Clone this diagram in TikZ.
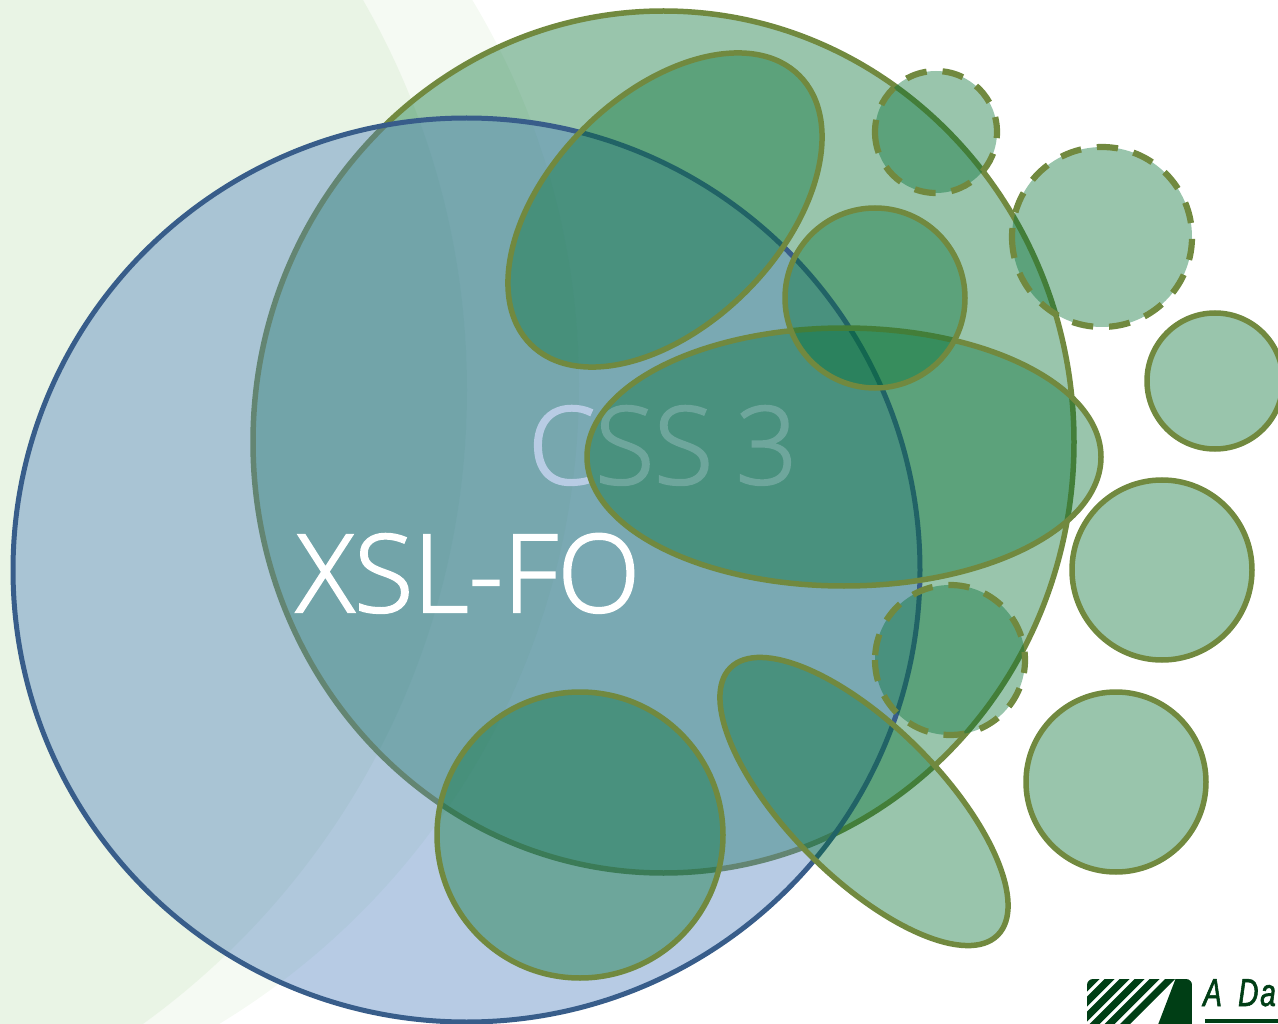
\documentclass[tikz,border=0pt]{standalone}
\usepackage{fontspec}
\newfontfamily\labelfont[FakeBold=2,WordSpace=0.82]{Open Sans Light}
\newfontfamily\logofont[FakeStretch=0.72,FakeBold=1.5,LetterSpace=4.5,WordSpace=1.7]{Liberation Sans}
\definecolor{bgouter}{HTML}{F5FAF3}
\definecolor{bginner}{HTML}{E9F4E5}
\definecolor{bluefill}{HTML}{4F81BD}
\definecolor{bluedge}{HTML}{385D8A}
\definecolor{greenfill}{HTML}{006E30}
\definecolor{greenedge}{HTML}{71893F}
\definecolor{logogreen}{HTML}{003E15}
\definecolor{csstext}{HTML}{B8CCE4}
\tikzset{
  bluebubble/.style={fill=bluefill,fill opacity=.41,draw=bluedge,draw opacity=1,line width=5pt},
  greenbubble/.style={fill=greenfill,fill opacity=.4,draw=greenedge,draw opacity=1,line width=5.5pt},
  dashbubble/.style={greenbubble,line width=6.2pt,dash pattern=on 21.2pt off 15.9pt},
  biglabel/.style={font=\labelfont\fontsize{108}{120}\selectfont,inner sep=0pt,anchor=base west},
}
\begin{document}
\begin{tikzpicture}[x=1pt,y=-1pt]
\useasboundingbox (0,0) rectangle (1278,1024);
\clip (0,0) rectangle (1278,1024);
% background discs
\fill[bgouter] (-168,385) circle[radius=747pt];
\fill[bginner] (-315,390) circle[radius=782pt];
% large overlapping discs
\draw[greenbubble] (663.5,442) ellipse[x radius=410.5pt,y radius=431pt];
\draw[bluebubble] (466.5,570) ellipse[x radius=453.5pt,y radius=452pt];
% labels
\node[biglabel,text=csstext] (css) at (528,484) {CSS 3};
\node[biglabel,text=white] (xsl) at (296,612) {XSL-FO};
% feature bubbles
\draw[greenbubble] (844,457) ellipse[x radius=257pt,y radius=129pt];
\draw[greenbubble,shift={(665,210)},rotate=45] (0,0) ellipse[x radius=190pt,y radius=115pt];
\draw[greenbubble,shift={(864,801.5)},rotate=-45] (0,0) ellipse[x radius=189pt,y radius=76pt];
\draw[greenbubble] (580,835) circle[radius=143pt];
\draw[greenbubble] (875,298) circle[radius=90pt];
\draw[greenbubble] (1215,381) circle[radius=68pt];
\draw[greenbubble] (1162,570) circle[radius=90pt];
\draw[greenbubble] (1116,782) circle[radius=90pt];
\draw[dashbubble] (875,132) arc[start angle=180,delta angle=360,radius=61pt] -- cycle;
\draw[dashbubble] (1012,237) arc[start angle=180,delta angle=360,radius=90pt] -- cycle;
\draw[dashbubble] (875,660) arc[start angle=180,delta angle=360,radius=75pt] -- cycle;
% logo
\begin{scope}
  \clip[rounded corners=6pt] (1087,979) rectangle (1192,1060);
  \fill[logogreen] (1175.5,979) -- (1192,979) -- (1192,1030) -- (1156,1030) -- cycle;
  \foreach \r in {1099.5,1114.5,1129.5,1144.5,1159.5,1175}{
    \fill[logogreen] (\r-10,979) -- (\r,979) -- (\r-60,1039) -- (\r-70,1039) -- cycle;
  }
\end{scope}
\node[font=\logofont\itshape\fontsize{39}{44}\selectfont,text=logogreen,inner sep=0pt,anchor=base west] (logo) at (1203,1006) {A Dat};
\fill[logogreen] (1205,1019.3) rectangle (1278,1022.7);
\end{tikzpicture}
\end{document}
